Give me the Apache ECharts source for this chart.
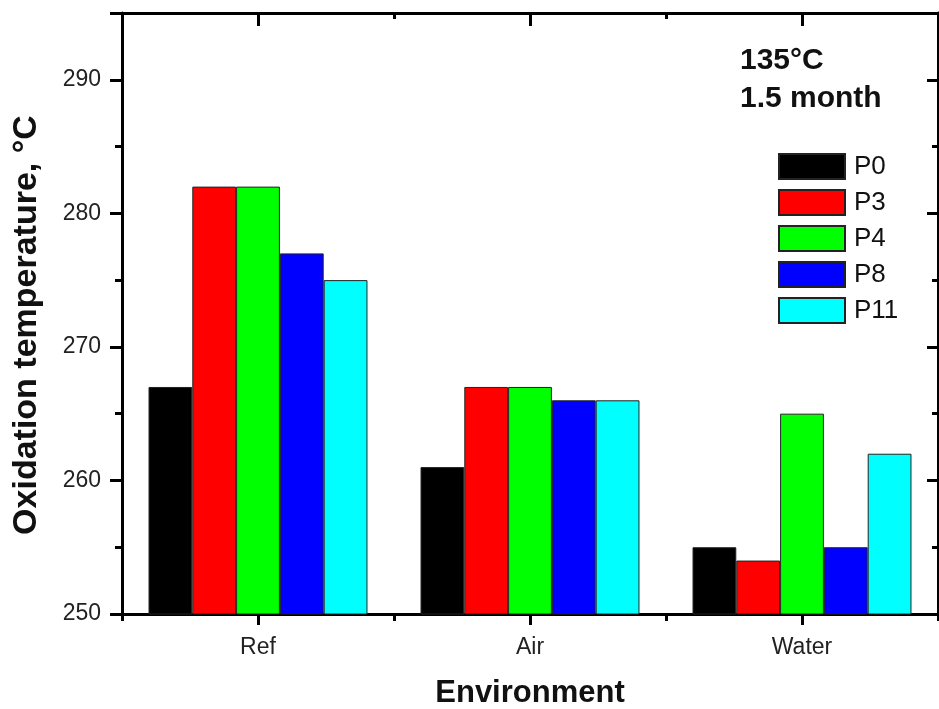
<!DOCTYPE html>
<html><head><meta charset="utf-8">
<script src="https://cdn.jsdelivr.net/npm/echarts@6/dist/echarts.min.js"></script>
<style>html,body{margin:0;padding:0;background:#fff}#c{width:939px;height:709px}</style>
</head><body><div id="c"></div>
<script>
const categories = ['Ref', 'Air', 'Water'];
const seriesNames = ['P0', 'P3', 'P4', 'P8', 'P11'];
const P0 = [267, 261, 255];
const P3 = [282, 267, 254];
const P4 = [282, 267, 265];
const P8 = [277, 266, 255];
const P11 = [275, 266, 262];
const yTicks = [250, 260, 270, 280, 290];
const colors = ['#000000', '#ff0000', '#00ff00', '#0000ff', '#00ffff'];
const values = [P0, P3, P4, P8, P11];

const FONT = '"Liberation Sans", Arial, sans-serif';
const chart = echarts.init(document.getElementById('c'));
const axisLine = {show: true, onZero: false, lineStyle: {color: '#000', width: 3}};
const noLine = {show: false, onZero: false};
chart.setOption({
  animation: false,
  backgroundColor: '#fff',
  grid: {left: 122, right: 1, top: 13, bottom: 95},
  legend: {
    left: 778, top: 153, padding: 0, orient: 'vertical', itemWidth: 66, itemHeight: 25, itemGap: 9,
    icon: 'rect',
    textStyle: {fontFamily: FONT, fontSize: 26, color: '#111', lineHeight: 25, padding: [0, 0, 0, 4]},
    data: seriesNames
  },
  graphic: [
    {type: 'text', x: 740, y: 61, style: {text: '135°C', font: 'bold 30px ' + FONT, fill: '#111', align: 'left', verticalAlign: 'middle'}},
    {type: 'text', x: 740, y: 99, style: {text: '1.5 month', font: 'bold 30px ' + FONT, fill: '#111', align: 'left', verticalAlign: 'middle'}},
    {type: 'text', x: 530, y: 693, style: {text: 'Environment', font: 'bold 31px ' + FONT, fill: '#111', align: 'center', verticalAlign: 'middle'}},
    {type: 'text', x: 27, y: 325, rotation: Math.PI / 2, style: {text: 'Oxidation temperature, °C', font: 'bold 34px ' + FONT, fill: '#111', align: 'center', verticalAlign: 'middle'}}
  ],
  xAxis: [{
    type: 'category', data: categories, position: 'bottom',
    axisLine: axisLine,
    axisTick: {show: true, alignWithLabel: true, length: 11, lineStyle: {color: '#000', width: 3}},
    axisLabel: {fontFamily: FONT, fontSize: 23, color: '#222', margin: 22},
    splitLine: {show: false}
  }, {
    type: 'category', data: categories, position: 'top',
    axisLine: axisLine,
    axisTick: {show: true, inside: true, alignWithLabel: true, length: 13, lineStyle: {color: '#000', width: 3}},
    axisLabel: {show: false}, splitLine: {show: false}
  }, {
    type: 'category', data: categories, position: 'bottom',
    axisLine: noLine,
    axisTick: {show: true, alignWithLabel: false, length: 7, lineStyle: {color: '#000', width: 3}},
    axisLabel: {show: false}, splitLine: {show: false}
  }, {
    type: 'category', data: categories, position: 'top',
    axisLine: noLine,
    axisTick: {show: true, inside: true, alignWithLabel: false, length: 6, lineStyle: {color: '#000', width: 3}},
    axisLabel: {show: false}, splitLine: {show: false}
  }],
  yAxis: [{
    type: 'value', min: 250, max: 295, interval: 10,
    axisLine: axisLine,
    axisTick: {show: true, length: 12, lineStyle: {color: '#000', width: 3}},
    minorTick: {show: true, splitNumber: 2, length: 7, lineStyle: {color: '#000', width: 3}},
    axisLabel: {fontFamily: FONT, fontSize: 23, color: '#222', margin: 21,
      formatter: v => yTicks.includes(v) ? String(v) : ''},
    splitLine: {show: false}
  }, {
    type: 'value', min: 250, max: 295, interval: 10, position: 'right',
    axisLine: axisLine,
    axisTick: {show: true, inside: true, length: 11, lineStyle: {color: '#000', width: 3}},
    minorTick: {show: true, splitNumber: 2, length: 6, lineStyle: {color: '#000', width: 3}},
    axisLabel: {show: false}, splitLine: {show: false}
  }],
  series: seriesNames.map((n, i) => ({
    name: n, type: 'bar', data: values[i], xAxisIndex: 0, yAxisIndex: 0,
    barGap: '0%', barCategoryGap: '19.5%',
    itemStyle: {color: colors[i], borderColor: '#222', borderWidth: 1}
  }))
});
</script></body></html>
